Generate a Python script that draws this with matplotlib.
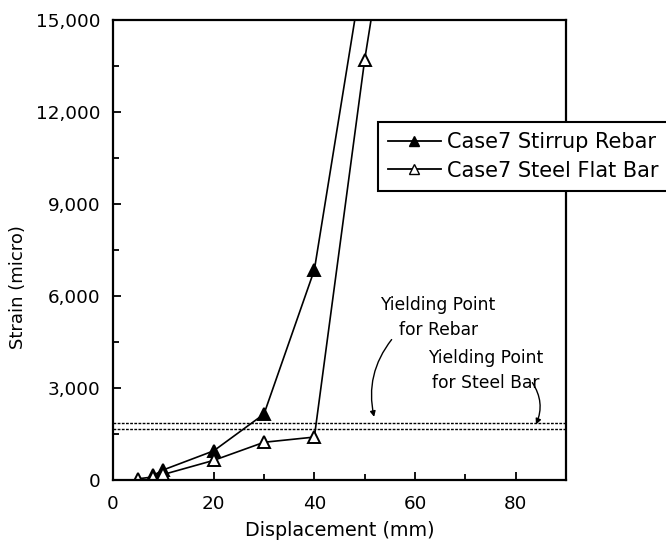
import numpy as np
import matplotlib
matplotlib.use("Agg")
import matplotlib.pyplot as plt
from matplotlib.ticker import MultipleLocator, FuncFormatter
from matplotlib.lines import Line2D

plt.rcParams['font.family'] = ['DejaVu Sans']

#%% data
rebar_x = [8, 10, 20, 30, 40, 50]
rebar_y = [150, 330, 950, 2150, 6850, 17000]

flat_x = [5, 8, 10, 20, 30, 40, 50, 60]
flat_y = [40, 100, 180, 640, 1230, 1400, 13700, 24000]

yield_rebar = 1850
yield_steel = 1650

#%% plot
fig = plt.figure(figsize=(6.66, 5.42), dpi=100)
ax = fig.add_axes([113/666, 1 - 480/542, (566-113)/666, (480-20)/542])

ax.plot(rebar_x, rebar_y, color='black', lw=1.2, marker='^', ms=9,
        mfc='black', mec='black', mew=1.4)
ax.plot(flat_x, flat_y, color='black', lw=1.2, marker='^', ms=9,
        mfc='white', mec='black', mew=1.4)

ax.axhline(yield_rebar, color='black', lw=1.0, ls=(0, (2, 1)))
ax.axhline(yield_steel, color='black', lw=1.0, ls=(0, (2, 1)))

ax.set_xlim(0, 90)
ax.set_ylim(0, 15000)
ax.xaxis.set_major_locator(MultipleLocator(20))
ax.xaxis.set_minor_locator(MultipleLocator(10))
ax.yaxis.set_major_locator(MultipleLocator(3000))
ax.yaxis.set_minor_locator(MultipleLocator(1500))
ax.yaxis.set_major_formatter(FuncFormatter(lambda v, p: f"{int(v):,}"))
ax.tick_params(which='both', direction='in', labelsize=13.2, width=1.3)
ax.tick_params(which='major', length=6)
ax.tick_params(which='minor', length=4)
ax.tick_params(axis='x', pad=11)
ax.tick_params(axis='y', pad=9)
for s in ax.spines.values():
    s.set_linewidth(1.6)

ax.set_xlabel("Displacement (mm)", fontsize=13.8)
ax.set_ylabel("Strain (micro)", fontsize=13)
ax.xaxis.set_label_coords(0.5, -0.09)
ax.yaxis.set_label_coords(-0.19, 0.42)

# annotations
ax.text(64.6, 5300, "Yielding Point\nfor Rebar", ha='center', va='center',
        fontsize=12.3, linespacing=1.5)
ax.annotate("", xy=(52, yield_rebar + 120), xytext=(55.7, 4650),
            arrowprops=dict(arrowstyle='-|>', color='black', lw=1.0,
                            connectionstyle="arc3,rad=0.25", mutation_scale=8))
ax.text(74, 3570, "Yielding Point\nfor Steel Bar", ha='center', va='center',
        fontsize=12.3, linespacing=1.5)
ax.annotate("", xy=(83.8, yield_steel + 80), xytext=(83, 3250),
            arrowprops=dict(arrowstyle='-|>', color='black', lw=1.0,
                            connectionstyle="arc3,rad=-0.3", mutation_scale=8))

# legend
handles = [Line2D([], [], color='black', lw=1.3, marker='^', ms=7, mfc='black', mec='black'),
           Line2D([], [], color='black', lw=1.3, marker='^', ms=7, mfc='white', mec='black')]
leg = fig.legend(handles, ["Case7 Stirrup Rebar", "Case7 Steel Flat Bar"],
                 loc='upper left', bbox_to_anchor=(378/666, 1 - 122/542),
                 fontsize=15, frameon=True, fancybox=False, edgecolor='black',
                 framealpha=1, handlelength=2.5, handletextpad=0.3,
                 borderpad=0.5, borderaxespad=0, labelspacing=0.4)
leg.get_frame().set_linewidth(1.5)

fig.savefig("out.png", dpi=100)
